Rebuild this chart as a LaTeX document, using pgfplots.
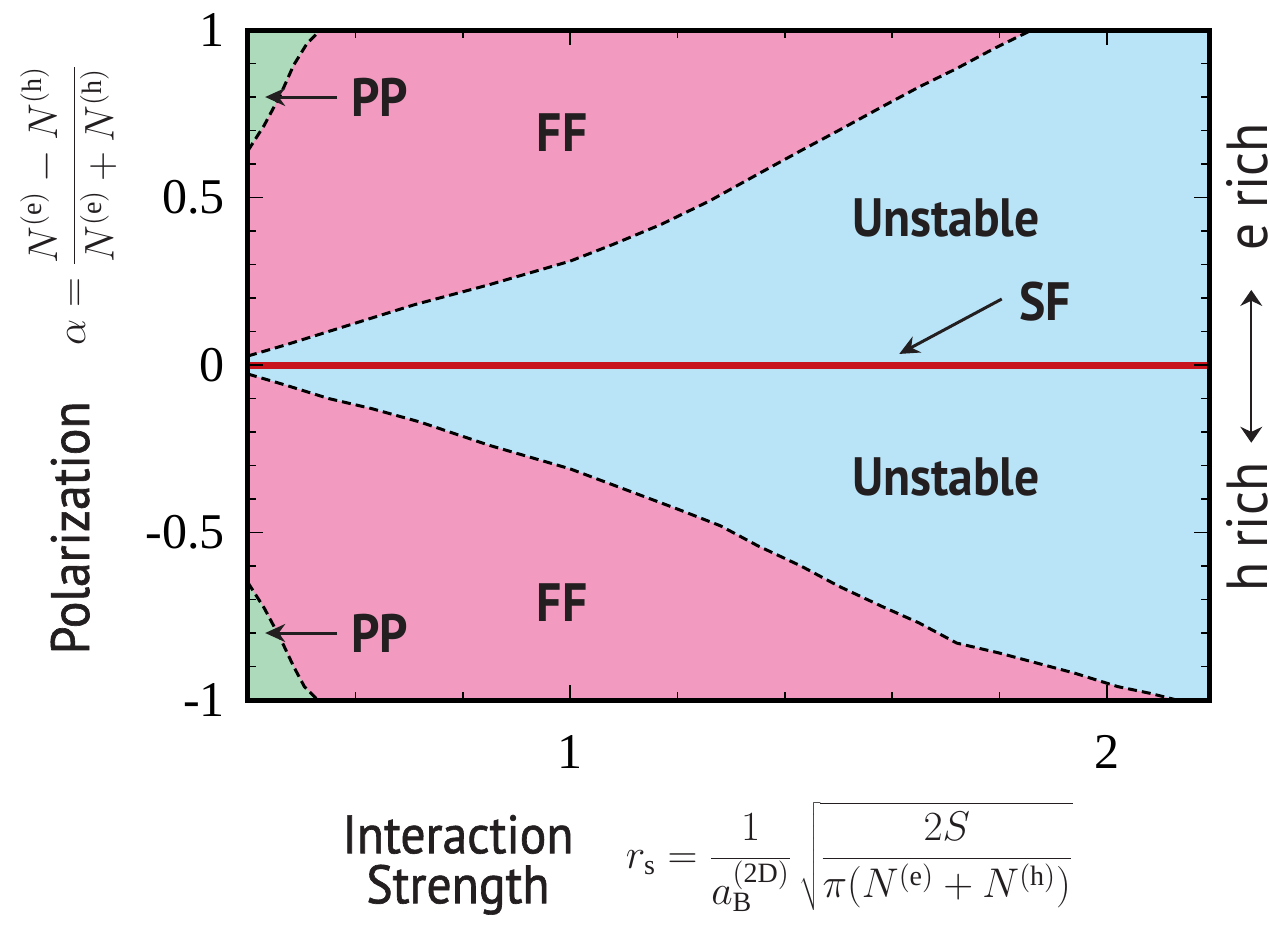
\documentclass[border=0pt]{standalone}
\usepackage{fontspec}
\setmainfont{Liberation Serif}
\newfontfamily\labfont[FakeStretch=0.92]{PT Sans}
\newfontfamily\axfont[FakeStretch=0.92, FakeBold=1.2]{PT Sans}
\usepackage{pgfplots}
\pgfplotsset{compat=1.18}
\usetikzlibrary{arrows.meta}

\definecolor{ffpink}{HTML}{F39AC0}
\definecolor{unblue}{HTML}{B9E4F8}
\definecolor{ppgreen}{HTML}{AEDABC}
\definecolor{sfred}{HTML}{C8141C}
\definecolor{ink}{HTML}{231F20}

% phase boundaries (r_s, alpha)
\pgfplotstableread{
x y
0.40 0.027
0.47 0.06
0.55 0.10
0.63 0.14
0.71 0.18
0.85 0.24
1.00 0.31
1.08 0.36
1.17 0.42
1.26 0.49
1.35 0.57
1.43 0.64
1.50 0.70
1.58 0.77
1.65 0.83
1.72 0.885
1.79 0.945
1.86 1.00
}\upperFF
\pgfplotstableread{
x y
0.40 -0.027
0.47 -0.06
0.55 -0.10
0.63 -0.13
0.72 -0.17
0.85 -0.24
1.00 -0.31
1.10 -0.37
1.20 -0.43
1.28 -0.48
1.35 -0.54
1.43 -0.60
1.50 -0.66
1.58 -0.72
1.65 -0.77
1.72 -0.83
1.80 -0.86
1.87 -0.89
1.94 -0.92
2.02 -0.96
2.08 -0.98
2.13 -1.00
}\lowerFF
\pgfplotstableread{
x y
0.40 0.64
0.43 0.715
0.46 0.805
0.485 0.895
0.51 0.96
0.535 1.00
}\upperPP
\pgfplotstableread{
x y
0.40 -0.65
0.43 -0.725
0.46 -0.815
0.485 -0.90
0.505 -0.96
0.53 -1.00
}\lowerPP

\tikzset{
  region/.style={font=\labfont\bfseries\fontsize{27}{30}\selectfont, text=ink},
  axlab/.style={font=\axfont\fontsize{27}{25}\selectfont, text=ink},
  sidelab/.style={font=\labfont\fontsize{29}{30}\selectfont, text=ink},
  mathlab/.style={font=\fontsize{20}{24}\selectfont, text=ink},
  boundary/.style={black, line width=1.5pt, dash pattern=on 4.5pt off 2.5pt},
}

\begin{document}
\begin{tikzpicture}
\begin{axis}[
  scale only axis,
  width=480.5pt, height=335pt,
  xmin=0.4, xmax=2.19, ymin=-1, ymax=1,
  axis background/.style={fill=unblue},
  axis on top,
  clip=false,
  axis line style={line width=2.5pt, black},
  xtick={1,2}, xticklabels={1,2},
  minor xtick={0.6,0.8,1.2,1.4,1.6,1.8},
  ytick={-1,-0.5,0,0.5,1}, yticklabels={-1,-0.5,0,0.5,1},
  minor ytick={-0.9,-0.8,-0.7,-0.6,-0.4,-0.3,-0.2,-0.1,0.1,0.2,0.3,0.4,0.6,0.7,0.8,0.9},
  tick align=inside,
  major tick length=7.5pt, minor tick length=4pt,
  every tick/.style={black, line width=0.8pt},
  ticklabel style={font=\fontsize{25}{28}\selectfont},
  xticklabel style={yshift=-14pt},
  yticklabel style={xshift=-8pt},
]
% FF regions
\addplot[fill=ffpink, draw=none] table {\upperFF} -- (axis cs:0.4,1) -- cycle;
\addplot[fill=ffpink, draw=none] table {\lowerFF} -- (axis cs:0.4,-1) -- cycle;
% PP regions
\addplot[fill=ppgreen, draw=none] table {\upperPP} -- (axis cs:0.4,1) -- cycle;
\addplot[fill=ppgreen, draw=none] table {\lowerPP} -- (axis cs:0.4,-1) -- cycle;
% boundaries
\addplot[boundary] table {\upperFF};
\addplot[boundary] table {\lowerFF};
\addplot[boundary] table {\upperPP};
\addplot[boundary] table {\lowerPP};
% SF line
\addplot[sfred, line width=3.5pt] coordinates {(0.4,0) (2.19,0)};

% region labels
\node[region] at (axis cs:0.645,0.80) {PP};
\node[region] at (axis cs:0.645,-0.80) {PP};
\draw[-{Stealth[length=10pt,width=9pt]}, line width=1.5pt, ink] (axis cs:0.566,0.80) -- (axis cs:0.432,0.80);
\draw[-{Stealth[length=10pt,width=9pt]}, line width=1.5pt, ink] (axis cs:0.566,-0.80) -- (axis cs:0.432,-0.80);
\node[region] at (axis cs:0.985,0.693) {FF};
\node[region] at (axis cs:0.985,-0.71) {FF};
\node[region] at (axis cs:1.70,0.44) {Unstable};
\node[region] at (axis cs:1.70,-0.334) {Unstable};
\node[region] at (axis cs:1.885,0.19) {SF};
\draw[-{Stealth[length=10pt,width=9pt]}, line width=1.5pt, ink] (axis cs:1.804,0.197) -- (axis cs:1.613,0.033);

% y-axis labels
\node[mathlab, rotate=90] at (rel axis cs:-0.187,0.739)
  {$\displaystyle \alpha = \frac{N^{(\mathrm{e})} - N^{(\mathrm{h})}}{N^{(\mathrm{e})} + N^{(\mathrm{h})}}$};
\node[axlab, rotate=90] at (rel axis cs:-0.185,0.257) {Polarization};

% x-axis labels
\node[axlab, align=center] at (rel axis cs:0.2185,-0.246) {Interaction\\Strength};
\node[mathlab] at (rel axis cs:0.626,-0.234)
  {$\displaystyle r_{\mathrm{s}} = \frac{1}{a_{\mathrm{B}}^{(\mathrm{2D})}}\,\sqrt{\frac{2S}{\pi(N^{(\mathrm{e})}+N^{(\mathrm{h})})}}$};

% carrier side
\node[sidelab, rotate=90] at (rel axis cs:1.0395,0.766) {e rich};
\node[sidelab, rotate=90] at (rel axis cs:1.0395,0.258) {h rich};
\draw[{Stealth[length=8pt,width=11pt]}-{Stealth[length=8pt,width=11pt]}, line width=0.8pt, ink]
  (rel axis cs:1.044,0.612) -- (rel axis cs:1.044,0.384);
\end{axis}
\pgfresetboundingbox
\path (-124pt,-113.5pt) rectangle (510.5pt,350pt);
\end{tikzpicture}
\end{document}
